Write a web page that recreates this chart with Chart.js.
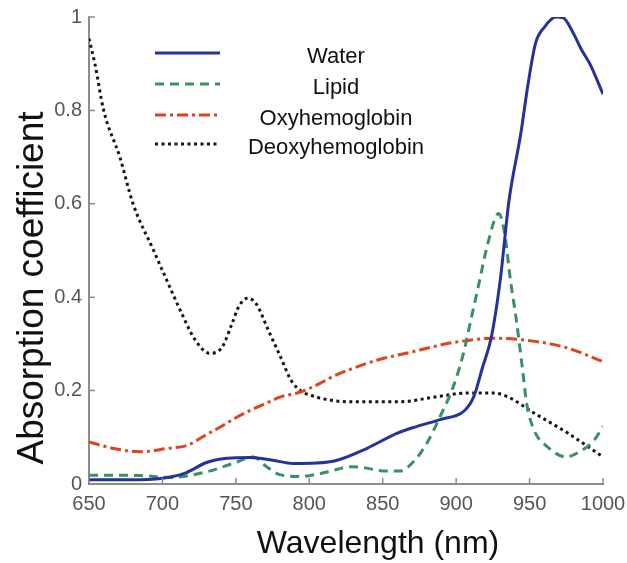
<!DOCTYPE html>
<html>
<head>
<meta charset="utf-8">
<script src="https://cdn.jsdelivr.net/npm/chart.js@4.4.0/dist/chart.umd.min.js"></script>
<style>
  body { margin: 0; background: #fff; }
  #chart { display: block; }
</style>
</head>
<body>
<canvas id="chart" width="627" height="563"></canvas>
<script>
// values, wavelength in nm
var waterNm = [650, 685, 707, 716, 730, 744, 760, 775, 789, 805, 819, 839, 860, 873, 889, 906, 912, 918, 924, 930, 936, 944, 949, 954, 960, 968, 973, 980, 985, 991, 1000];
var waterAbs = [0.009, 0.009, 0.016, 0.024, 0.046, 0.055, 0.057, 0.051, 0.044, 0.045, 0.051, 0.076, 0.109, 0.123, 0.138, 0.158, 0.187, 0.25, 0.315, 0.436, 0.607, 0.75, 0.857, 0.943, 0.978, 1.0, 0.998, 0.964, 0.932, 0.9, 0.835];

var lipidNm = [650, 685, 705, 730, 748, 762, 771, 780, 794, 807, 815, 828, 839, 850, 862, 871, 880, 889, 898, 905, 910, 916, 921, 929, 933, 937, 941, 945, 948, 953, 962, 975, 984, 994, 1000];
var lipidAbs = [0.019, 0.018, 0.014, 0.026, 0.044, 0.058, 0.037, 0.02, 0.016, 0.022, 0.028, 0.037, 0.034, 0.028, 0.028, 0.048, 0.087, 0.144, 0.208, 0.28, 0.351, 0.436, 0.508, 0.579, 0.537, 0.436, 0.351, 0.251, 0.173, 0.116, 0.08, 0.058, 0.069, 0.094, 0.123];

var oxyNm = [650, 667, 685, 703, 717, 730, 740, 750, 760, 770, 780, 794, 807, 816, 830, 846, 870, 890, 900, 925, 950, 975, 1000];
var oxyAbs = [0.09, 0.076, 0.069, 0.076, 0.083, 0.106, 0.123, 0.142, 0.158, 0.172, 0.186, 0.197, 0.215, 0.23, 0.248, 0.265, 0.283, 0.298, 0.304, 0.312, 0.307, 0.292, 0.262];

var deoxyNm = [650, 654, 660, 671, 680, 694, 703, 713, 722, 732, 740, 747, 752, 758, 764, 772, 780, 788, 794, 805, 818, 833, 861, 887, 908, 925, 935, 953, 976, 1000];
var deoxyAbs = [0.954, 0.9, 0.8, 0.7, 0.6, 0.5, 0.436, 0.366, 0.31, 0.28, 0.29, 0.34, 0.38, 0.398, 0.385, 0.33, 0.275, 0.22, 0.2, 0.186, 0.178, 0.176, 0.176, 0.187, 0.195, 0.195, 0.187, 0.152, 0.109, 0.058];

var seriesNames = ['Water', 'Lipid', 'Oxyhemoglobin', 'Deoxyhemoglobin'];
var xTicks = [650, 700, 750, 800, 850, 900, 950, 1000];
var yTicks = [0, 0.2, 0.4, 0.6, 0.8, 1];
var xTitle = 'Wavelength (nm)';
var yTitle = 'Absorption coefficient';

var toPoints = function (xs, ys) {
  return xs.map(function (x, i) { return {x: x, y: ys[i]}; });
};

var axisGray = '#8c8c8c';
var sans = '"Liberation Sans", Arial, sans-serif';

// tick marks point into the plot, so draw them here from the scales
var innerTicks = {
  id: 'innerTicks',
  afterDraw: function (chart) {
    var ctx = chart.ctx, xs = chart.scales.x, ys = chart.scales.y;
    var area = chart.chartArea;
    ctx.save();
    ctx.strokeStyle = axisGray;
    ctx.lineWidth = 1.5;
    ctx.beginPath();
    xTicks.forEach(function (v) {
      var px = xs.getPixelForValue(v);
      ctx.moveTo(px, area.bottom);
      ctx.lineTo(px, area.bottom - 6);
    });
    yTicks.forEach(function (v) {
      var py = ys.getPixelForValue(v);
      ctx.moveTo(area.left, py);
      ctx.lineTo(area.left + 6, py);
    });
    ctx.stroke();
    ctx.restore();
  }
};

// axis titles sit off-centre in the figure, so place them by hand
var axisTitles = {
  id: 'axisTitles',
  afterDraw: function (chart) {
    var ctx = chart.ctx;
    ctx.save();
    ctx.fillStyle = '#111';
    ctx.textAlign = 'center';
    ctx.textBaseline = 'alphabetic';
    ctx.font = '32px ' + sans;
    ctx.fillText(xTitle, 378, 553);
    ctx.translate(43, 288);
    ctx.rotate(-Math.PI / 2);
    ctx.font = '37px ' + sans;
    ctx.fillText(yTitle, 0, 0);
    ctx.restore();
  }
};

// legend: line sample on the left, label centred in a column to the right
var sampleLegend = {
  id: 'sampleLegend',
  afterDraw: function (chart) {
    var ctx = chart.ctx;
    var rows = [53, 84, 115, 144];
    ctx.save();
    chart.data.datasets.forEach(function (ds, i) {
      ctx.strokeStyle = ds.borderColor;
      ctx.lineWidth = ds.borderWidth;
      ctx.setLineDash(ds.borderDash || []);
      ctx.beginPath();
      ctx.moveTo(155, rows[i]);
      ctx.lineTo(220, rows[i]);
      ctx.stroke();
      ctx.setLineDash([]);
      ctx.fillStyle = '#111';
      ctx.font = '22px ' + sans;
      ctx.textAlign = 'center';
      ctx.textBaseline = 'middle';
      ctx.fillText(ds.label, 336, rows[i] + 4);
    });
    ctx.restore();
  }
};

var config = {
  type: 'line',
  data: {
    datasets: [{
      label: seriesNames[0],
      data: toPoints(waterNm, waterAbs),
      borderColor: '#24329b',
      borderWidth: 3
    }, {
      label: seriesNames[1],
      data: toPoints(lipidNm, lipidAbs),
      borderColor: '#3a9160',
      borderWidth: 3,
      borderDash: [9, 6]
    }, {
      label: seriesNames[2],
      data: toPoints(oxyNm, oxyAbs),
      borderColor: '#e0421c',
      borderWidth: 3,
      borderDash: [11, 4, 3, 4]
    }, {
      label: seriesNames[3],
      data: toPoints(deoxyNm, deoxyAbs),
      borderColor: '#151515',
      borderWidth: 3,
      borderDash: [3, 3.5]
    }]
  },
  options: {
    responsive: false,
    animation: false,
    cubicInterpolationMode: 'monotone',
    elements: { point: { radius: 0 } },
    layout: { padding: { left: 0, right: 24, top: 17, bottom: 0 } },
    plugins: {
      legend: { display: false },
      tooltip: { enabled: false }
    },
    scales: {
      x: {
        type: 'linear',
        min: 650,
        max: 1000,
        afterBuildTicks: function (scale) {
          scale.ticks = xTicks.map(function (v) { return {value: v}; });
        },
        afterFit: function (scale) {
          scale.height = 79;
          scale.paddingLeft = 0;
          scale.paddingRight = 0;
        },
        grid: { drawOnChartArea: false, drawTicks: false },
        border: { color: axisGray, width: 2 },
        ticks: {
          padding: 8,
          color: '#555',
          font: { family: sans, size: 20 },
          callback: function (v) { return String(v); }
        }
      },
      y: {
        min: 0,
        max: 1,
        afterBuildTicks: function (scale) {
          scale.ticks = yTicks.map(function (v) { return {value: v}; });
        },
        afterFit: function (scale) {
          scale.width = 89;
          scale.paddingTop = 0;
          scale.paddingBottom = 0;
        },
        grid: { drawOnChartArea: false, drawTicks: false },
        border: { color: axisGray, width: 2 },
        ticks: {
          padding: 7,
          color: '#555',
          font: { family: sans, size: 20 },
          callback: function (v) { return String(Math.round(v * 10) / 10); }
        }
      }
    }
  },
  plugins: [innerTicks, axisTitles, sampleLegend]
};

window.onload = function () {
  var ctx = document.getElementById('chart').getContext('2d');
  window.absChart = new Chart(ctx, config);
};
</script>
</body>
</html>
